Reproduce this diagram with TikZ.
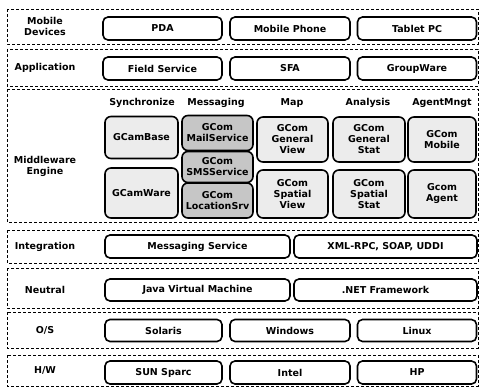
\documentclass[tikz,border=0pt]{standalone}
\usepackage{fontspec}
\setmainfont{DejaVu Sans}
\begin{document}
\begin{tikzpicture}[x=1pt,y=-1pt,
  txt/.style={font=\bfseries\fontsize{9.5}{11}\selectfont},
  layer/.style={draw, densely dashed, line width=0.6pt},
  lbl/.style={txt, align=center},
  hdr/.style={txt},
  comp/.style={txt, draw, line width=1.6pt, rounded corners=5pt, fill=white, inner sep=0pt},
  mw/.style={txt, draw, line width=1.6pt, rounded corners=6pt, fill=gray!15, align=center, inner sep=0pt},
  msg/.style={txt, draw, line width=1.6pt, rounded corners=6pt, fill=gray!45, align=center, inner sep=0pt}
]
\useasboundingbox (0,0) rectangle (481,387);
% layers
\draw[layer] (7,9) rectangle (478,44);
\draw[layer] (7,49) rectangle (478,86);
\draw[layer] (7,89) rectangle (478,222);
\draw[layer] (7,230) rectangle (478,263);
\draw[layer] (7,268) rectangle (478,308);
\draw[layer] (7,312) rectangle (478,348);
\draw[layer] (7,355) rectangle (478,386);
% labels
\node[lbl] (lmob) at (45,26) {Mobile\\Devices};
\node[lbl] (lapp) at (45,68) {Application};
\node[lbl] (lmid) at (45,166) {Middleware\\Engine};
\node[lbl] (lint) at (45,247) {Integration};
\node[lbl] (lneu) at (45,290) {Neutral};
\node[lbl] (los) at (45,330) {O/S};
\node[lbl] (lhw) at (45,370) {H/W};
% mobile
\node[comp, minimum width=119pt, minimum height=23pt] (pda) at (162.5,28.5) {PDA};
\node[comp, minimum width=120pt, minimum height=23pt] (phone) at (290,28.5) {Mobile Phone};
\node[comp, minimum width=119pt, minimum height=23pt] (tablet) at (417,28.5) {Tablet PC};
% application
\node[comp, minimum width=119pt, minimum height=23pt] (field) at (162.5,68.5) {Field Service};
\node[comp, minimum width=120pt, minimum height=23pt] (sfa) at (290,68.5) {SFA};
\node[comp, minimum width=119pt, minimum height=23pt] (group) at (417,68.5) {GroupWare};
% middleware headers
\node[hdr] (hsync) at (142,103) {Synchronize};
\node[hdr] (hmsg) at (216,103) {Messaging};
\node[hdr] (hmap) at (292,103) {Map};
\node[hdr] (hana) at (368,103) {Analysis};
\node[hdr] (hagt) at (442,103) {AgentMngt};
% middleware boxes
\node[mw, minimum width=73pt, minimum height=42pt] (base) at (141.5,137.5) {GCamBase};
\node[mw, minimum width=73pt, minimum height=50pt] (ware) at (141.5,193) {GCamWare};
\node[msg, minimum width=71pt, minimum height=35pt] (mail) at (217.5,133) {GCom\\MailService};
\node[msg, minimum width=71pt, minimum height=31pt] (sms) at (217.5,167) {GCom\\SMSService};
\node[msg, minimum width=71pt, minimum height=35pt] (loc) at (217.5,200.5) {GCom\\LocationSrv};
\node[mw, minimum width=71pt, minimum height=45pt] (gview) at (292.5,139.5) {GCom\\General\\View};
\node[mw, minimum width=71pt, minimum height=48pt] (sview) at (292.5,194) {GCom\\Spatial\\View};
\node[mw, minimum width=72pt, minimum height=45pt] (gstat) at (369,139.5) {GCom\\General\\Stat};
\node[mw, minimum width=72pt, minimum height=48pt] (sstat) at (369,194) {GCom\\Spatial\\Stat};
\node[mw, minimum width=68pt, minimum height=45pt] (mobile) at (442,139.5) {GCom\\Mobile};
\node[mw, minimum width=68pt, minimum height=48pt] (agent) at (442,194) {Gcom\\Agent};
% integration
\node[comp, minimum width=185pt, minimum height=23pt] (msgsvc) at (197.5,246.5) {Messaging Service};
\node[comp, minimum width=183pt, minimum height=23pt] (xml) at (385.5,246.5) {XML-RPC, SOAP, UDDI};
% neutral
\node[comp, minimum width=185pt, minimum height=22pt] (jvm) at (197.5,290) {Java Virtual Machine};
\node[comp, minimum width=183pt, minimum height=22pt] (net) at (385.5,290) {.NET Framework};
% O/S
\node[comp, minimum width=117pt, minimum height=22pt] (sol) at (163.5,330.5) {Solaris};
\node[comp, minimum width=120pt, minimum height=22pt] (win) at (290,330.5) {Windows};
\node[comp, minimum width=119pt, minimum height=22pt] (lin) at (417,330.5) {Linux};
% H/W
\node[comp, minimum width=117pt, minimum height=23pt] (sun) at (163.5,372.5) {SUN Sparc};
\node[comp, minimum width=120pt, minimum height=23pt] (intel) at (290,372.5) {Intel};
\node[comp, minimum width=119pt, minimum height=23pt] (hp) at (417,372.5) {HP};
\end{tikzpicture}
\end{document}
